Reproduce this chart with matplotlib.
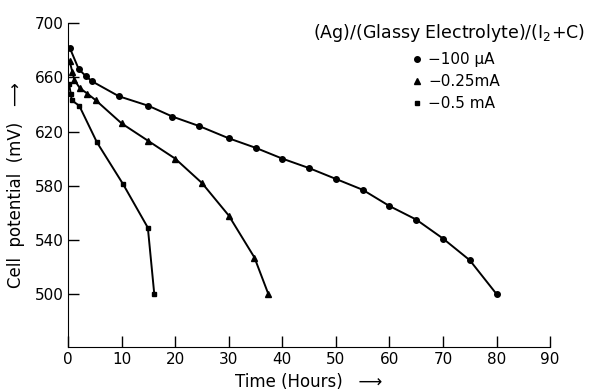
import matplotlib
matplotlib.use("Agg")
import matplotlib.pyplot as plt
from matplotlib.lines import Line2D

# Discharge data (time in hours, cell potential in mV)
t_100uA = [0.3, 2, 3.3, 4.5, 9.5, 15, 19.5, 24.5, 30, 35, 40, 45, 50, 55, 60, 65, 70, 75, 80]
v_100uA = [682, 666, 661, 657, 646, 639, 631, 624, 615, 608, 600, 593, 585, 577, 565, 555, 541, 525, 500]

t_025mA = [0.3, 0.8, 1.2, 2.2, 3.6, 5.2, 10, 15, 20, 25, 30, 34.8, 37.4]
v_025mA = [672, 664, 658, 652, 648, 643, 626, 613, 600, 582, 558, 527, 500]

t_05mA = [0.2, 0.5, 0.7, 2.1, 5.4, 10.3, 14.9, 16.1]
v_05mA = [655, 648, 643, 639, 612, 581, 549, 500]

cell_title = "(Ag)/(Glassy Electrolyte)/(I$_2$+C)"
labels = ["\u2212100 \u00b5A", "\u22120.25mA", "\u22120.5 mA"]
x_ticks = [0, 10, 20, 30, 40, 50, 60, 70, 80, 90]
y_ticks = [500, 540, 580, 620, 660, 700]

plt.rcParams["font.family"] = ["DejaVu Sans"]

fig = plt.figure(figsize=(5.89, 3.92), dpi=100)
ax = fig.add_axes([0.1155, 0.115, 0.8185, 0.826])

ax.plot(t_100uA, v_100uA, color="black", lw=1.4, marker="o", ms=4)
ax.plot(t_025mA, v_025mA, color="black", lw=1.4, marker="^", ms=4)
ax.plot(t_05mA, v_05mA, color="black", lw=1.4, marker="s", ms=3.5)

ax.set_xlim(0, 90)
ax.set_ylim(461, 700)
ax.set_xticks(x_ticks)
ax.set_yticks(y_ticks)
ax.tick_params(direction="in", length=8, width=1, labelsize=11, pad=4)
ax.tick_params(axis="y", pad=3)

ax.spines["top"].set_visible(False)
ax.spines["right"].set_visible(False)

ax.set_xlabel("Time (Hours)   \u27f6", fontsize=12, labelpad=4)
ax.set_ylabel("Cell  potential  (mV)   \u27f6", fontsize=12, labelpad=7)

# cell description above the legend
ax.text(0.79, 0.969, cell_title, transform=ax.transAxes, fontsize=12.5,
        ha="center", va="center")

handles = [
    Line2D([], [], color="black", marker="o", ls="none", ms=4),
    Line2D([], [], color="black", marker="^", ls="none", ms=4),
    Line2D([], [], color="black", marker="s", ls="none", ms=3.5),
]
ax.legend(handles, labels, frameon=False, fontsize=11,
          loc="upper left", bbox_to_anchor=(0.712, 0.91),
          handlelength=0.8, handletextpad=0.3, labelspacing=0.45,
          borderpad=0, borderaxespad=0)

fig.savefig("out.png", dpi=100)
